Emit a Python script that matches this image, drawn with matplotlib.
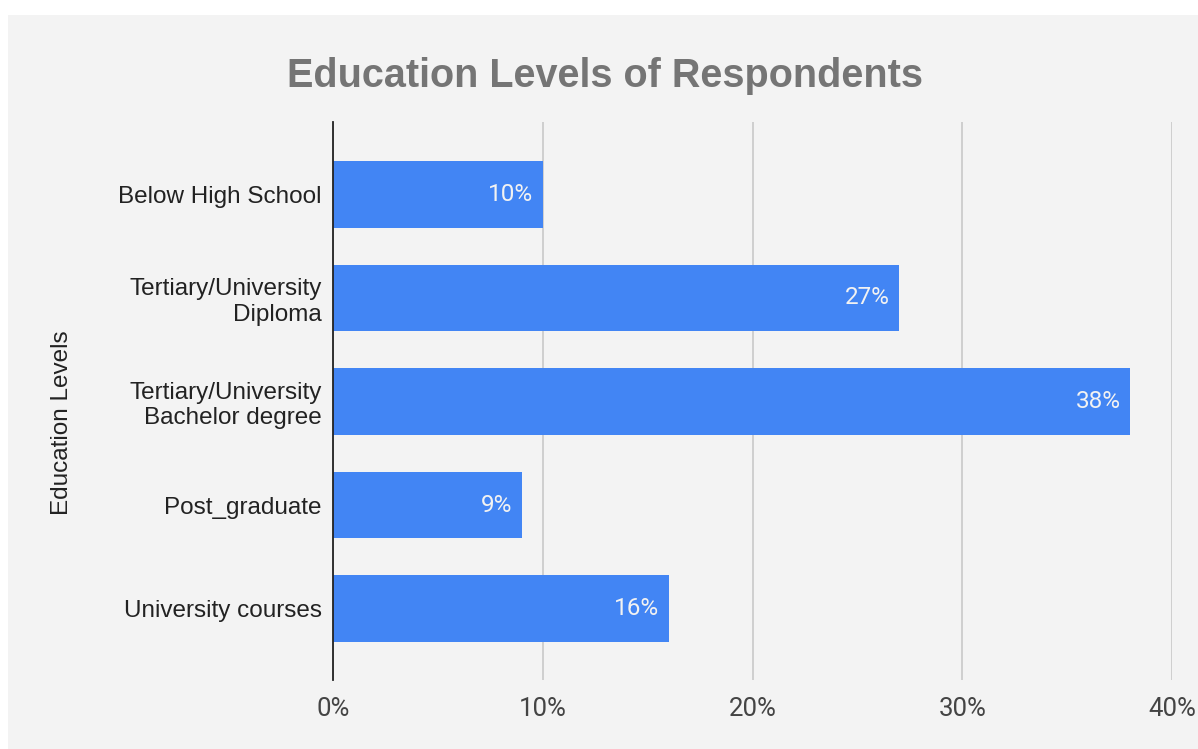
import matplotlib.pyplot as plt
from matplotlib.patches import Rectangle
from matplotlib.ticker import FuncFormatter

# education level shares (%)
levels = ['Below High School', 'Tertiary/University\nDiploma',
          'Tertiary/University\nBachelor degree', 'Post_graduate',
          'University courses']
shares = [10, 27, 38, 9, 16]
ticks = [0, 10, 20, 30, 40]

bg = '#f3f3f3'
bar_color = '#4285f4'

fig = plt.figure(figsize=(11.98, 7.49), dpi=100, facecolor='white')

# gray panel behind the chart
fig.patches.append(Rectangle((8 / 1198, 0), 1, 1 - 15 / 749,
                             transform=fig.transFigure, facecolor=bg,
                             edgecolor='none', zorder=-10))

ax = fig.add_axes([333 / 1198, 1 - 680 / 749, 839 / 1198, 558 / 749])
ax.set_facecolor(bg)

y = list(range(len(levels)))
ax.barh(y, shares, height=0.64, color=bar_color, zorder=3)

for yi, v in zip(y, shares):
    ax.text(v - 0.45, yi, f'{v}%', ha='right', va='center', color='#f2f2f2',
            fontsize=17.5, family='Roboto', zorder=4)

ax.set_xlim(0, 40)
ax.set_ylim(4.69, -0.70)
ax.set_xticks(ticks)
ax.xaxis.set_major_formatter(FuncFormatter(lambda v, p: f'{v:.0f}%'))
ax.set_yticks(y)
ax.set_yticklabels(levels, family='Liberation Sans', fontsize=17.5,
                   color='#222222', linespacing=1.2)
for lbl in ax.get_xticklabels():
    lbl.set_family('Roboto')
    lbl.set_fontsize(18.5)
    lbl.set_color('#444444')

ax.tick_params(axis='both', length=0)
ax.tick_params(axis='x', pad=12)
ax.tick_params(axis='y', pad=8)
ax.grid(axis='x', color='#c8c8c8', linewidth=1.2, zorder=0)
for s in ['top', 'right', 'bottom']:
    ax.spines[s].set_visible(False)
ax.spines['left'].set_color('#222222')
ax.spines['left'].set_linewidth(1.3)
ax.spines['left'].set_zorder(5)

ax.set_ylabel('Education Levels', family='Liberation Sans', fontsize=17.5,
              color='#222222', labelpad=0)
ax.yaxis.set_label_coords(-260 / 839, 0.462)

fig.text(605 / 1198, 1 - 76 / 749, 'Education Levels of Respondents',
         ha='center', va='center', family='Liberation Sans',
         fontweight='bold', fontsize=28.5, color='#757575')

fig.savefig('out.png', dpi=100, facecolor='white')
